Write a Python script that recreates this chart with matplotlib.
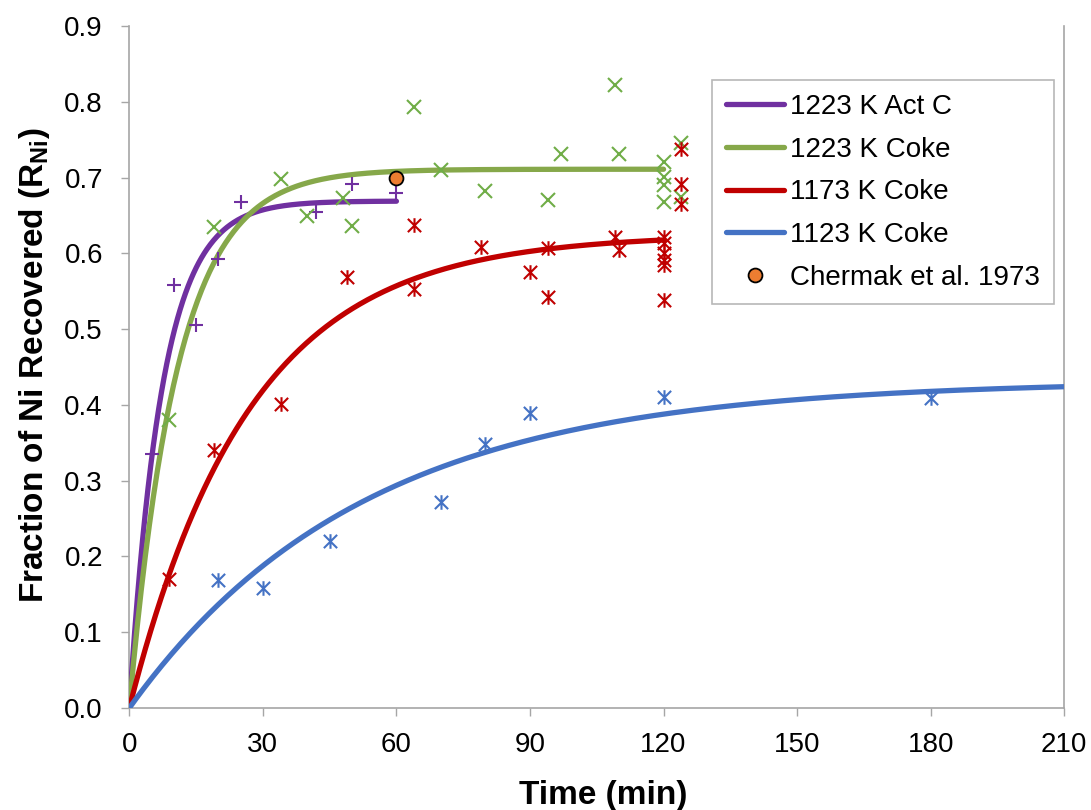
import numpy as np
import matplotlib
matplotlib.use("Agg")
import matplotlib.pyplot as plt
from matplotlib.path import Path

plt.rcParams['font.family'] = ['Liberation Sans', 'DejaVu Sans']
plt.rcParams['mathtext.fontset'] = 'custom'
plt.rcParams['mathtext.rm'] = 'Liberation Sans'
plt.rcParams['mathtext.bf'] = 'Liberation Sans:bold'

# ---- measured recovery data (time in min, fraction of Ni recovered) ----
actc_1223_t = [5, 10, 15, 20, 25, 42, 50, 60]
actc_1223_r = [0.335, 0.558, 0.506, 0.592, 0.668, 0.654, 0.691, 0.679]

coke_1223_t = [9, 19, 34, 40, 48, 50, 64, 70, 80, 94, 97, 109, 110,
               120, 120, 120, 120, 124, 124]
coke_1223_r = [0.380, 0.635, 0.698, 0.649, 0.673, 0.636, 0.793, 0.710, 0.682,
               0.671, 0.731, 0.822, 0.731, 0.721, 0.701, 0.690, 0.668,
               0.746, 0.674]

coke_1173_t = [9, 19, 34, 49, 64, 64, 79, 90, 94, 94, 109, 110,
               120, 120, 120, 120, 120, 120, 124, 124, 124]
coke_1173_r = [0.170, 0.341, 0.401, 0.569, 0.638, 0.553, 0.609, 0.576, 0.607,
               0.542, 0.622, 0.604, 0.622, 0.613, 0.600, 0.591, 0.585, 0.539,
               0.738, 0.691, 0.665]

coke_1123_t = [20, 30, 45, 70, 80, 90, 120, 180]
coke_1123_r = [0.169, 0.159, 0.220, 0.272, 0.349, 0.389, 0.411, 0.409]

chermak_t = [60]
chermak_r = [0.700]

# ---- first-order model fits: R = Rmax * (1 - exp(-k t)) ----
fit_labels = ['1223 K Act C', '1223 K Coke', '1173 K Coke', '1123 K Coke']
fit_rmax = [0.669, 0.711, 0.625, 0.432]
fit_k = [0.135, 0.092, 0.037, 0.019]
fit_tend = [60, 120, 120, 210]
colors = ['#7030A0', '#86A84A', '#C00000', '#4472C4']

x_ticks = [0, 30, 60, 90, 120, 150, 180, 210]
y_ticks = [0.0, 0.1, 0.2, 0.3, 0.4, 0.5, 0.6, 0.7, 0.8, 0.9]

# asterisk marker: an "x" crossed by a vertical bar
star = Path([(-1, -1), (1, 1), (-1, 1), (1, -1), (0, -1.1), (0, 1.1)],
            [Path.MOVETO, Path.LINETO, Path.MOVETO, Path.LINETO,
             Path.MOVETO, Path.LINETO])

fig = plt.figure(figsize=(10.91, 8.10), dpi=100)
ax = fig.add_axes([0.1185, 0.1259, 0.857, 0.842])

# fitted curves
for lab, rm, k, te, c in zip(fit_labels, fit_rmax, fit_k, fit_tend, colors):
    t = np.linspace(0, te, 400)
    ax.plot(t, rm * (1 - np.exp(-k * t)), color=c, lw=3.8,
            solid_capstyle='round', label=lab, zorder=3)

# data points
ax.plot(actc_1223_t, actc_1223_r, ls='none', marker='+', ms=10, mew=1.5,
        color=colors[0], zorder=4)
ax.plot(coke_1223_t, coke_1223_r, ls='none', marker='x', ms=9.5, mew=1.5,
        color='#70AD47', zorder=4)
ax.plot(coke_1173_t, coke_1173_r, ls='none', marker=star, ms=10.5, mew=1.5,
        color=colors[2], zorder=4)
ax.plot(coke_1123_t, coke_1123_r, ls='none', marker=star, ms=10.5, mew=1.5,
        color=colors[3], zorder=4)
ax.plot(chermak_t, chermak_r, ls='none', marker='o', ms=10, mew=1.3,
        mfc='#ED7D31', mec='black', label='Chermak et al. 1973', zorder=5)

ax.set_xlim(0, 210)
ax.set_ylim(0, 0.9)
ax.set_xticks(x_ticks)
ax.set_yticks(y_ticks)
ax.set_yticklabels([f'{v:.1f}' for v in y_ticks])
ax.tick_params(axis='both', labelsize=20, direction='out', length=6,
               width=1, color='#A6A6A6')
ax.tick_params(axis='x', pad=11)
ax.tick_params(axis='y', pad=13)

for s in ['left', 'bottom', 'right']:
    ax.spines[s].set_color('#A6A6A6')
    ax.spines[s].set_linewidth(1.2)
ax.spines['top'].set_visible(False)

ax.set_xlabel('Time (min)', fontsize=24, fontweight='bold')
ax.set_ylabel(r'Fraction of Ni Recovered (R$_{\mathbf{Ni}}$)', fontsize=24,
              fontweight='bold')
ax.xaxis.set_label_coords(0.5066, -0.1276)
ax.xaxis.label.set_va('center')
ax.yaxis.set_label_coords(-0.101, 0.503)
ax.yaxis.label.set_va('center')

leg = ax.legend(loc='upper left', bbox_to_anchor=(712 / 1091, 1 - 80 / 810),
                bbox_transform=fig.transFigure, fontsize=20, frameon=True,
                fancybox=False, edgecolor='#A6A6A6', handlelength=2.1,
                handletextpad=0.2, labelspacing=0.6, borderpad=0.5,
                borderaxespad=0)
leg.get_frame().set_linewidth(1.2)

fig.savefig('out.png', dpi=100)
